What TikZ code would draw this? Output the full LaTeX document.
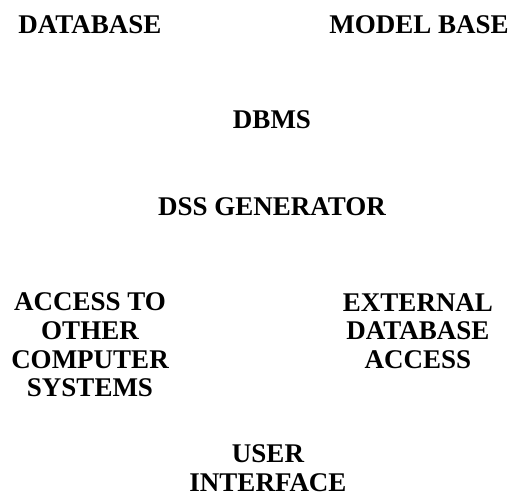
\documentclass[tikz,border=0pt]{standalone}
\usepackage{fontspec}
\setmainfont{Liberation Serif}
\usepackage{tikz}

\begin{document}
\begin{tikzpicture}[x=1pt, y=1pt,
    label/.style={font=\fontsize{27}{28.7}\selectfont\bfseries, align=center, inner sep=0pt}]

   \useasboundingbox (0,0) rectangle (512,497);

   \node[label] (database)  at (90,472)  {DATABASE};
   \node[label] (modelbase) at (419,472) {MODEL BASE};
   \node[label] (dbms)      at (272,377) {DBMS};
   \node[label] (dssgen)    at (272,290) {DSS GENERATOR};
   \node[label] (access)    at (90,152)  {ACCESS TO\\OTHER\\COMPUTER\\SYSTEMS};
   \node[label] (external)  at (418,166) {EXTERNAL\\DATABASE\\ACCESS};
   \node[label] (user)      at (268,29)  {USER\\INTERFACE};

\end{tikzpicture}
\end{document}
